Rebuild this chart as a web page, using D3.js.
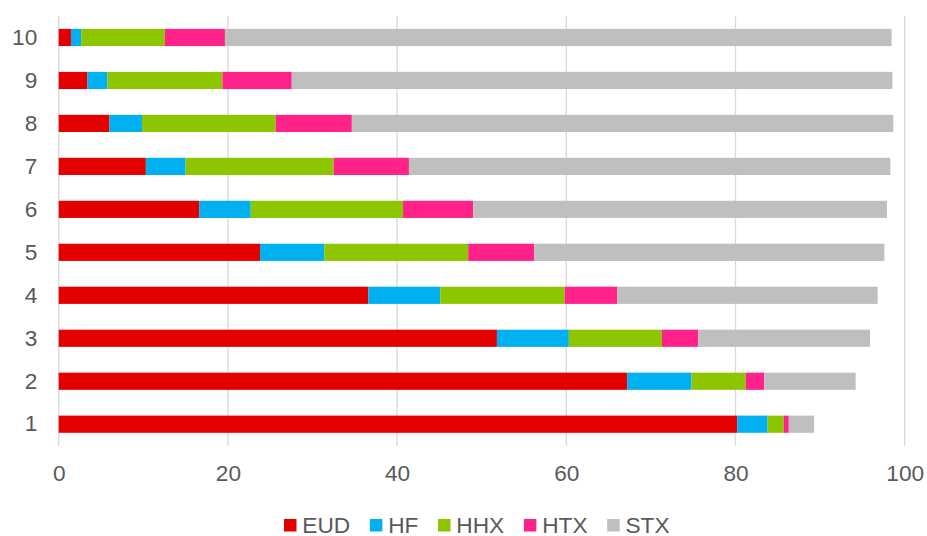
<!DOCTYPE html>
<html>
<head>
<meta charset="utf-8">
<script src="https://cdn.jsdelivr.net/npm/d3@7"></script>
<style>
  body { margin: 0; background: #fff; }
  svg { display: block; font-family: "Liberation Sans", Arial, sans-serif; }
</style>
</head>
<body>
<svg id="chart" width="927" height="536"></svg>
<script>
const categories = ["1","2","3","4","5","6","7","8","9","10"];
const seriesNames = ["EUD","HF","HHX","HTX","STX"];
const EUD = [80.2, 67.2, 51.8, 36.6, 23.8, 16.6, 10.3, 6.0, 3.4, 1.45];
const HF  = [3.6, 7.6, 8.5, 8.5, 7.6, 6.1, 4.7, 3.85, 2.35, 1.2];
const HHX = [1.9, 6.4, 11.0, 14.7, 17.0, 18.0, 17.5, 15.8, 13.6, 9.9];
const HTX = [0.6, 2.2, 4.3, 6.2, 7.8, 8.3, 8.9, 9.0, 8.2, 7.1];
const STX = [3.0, 10.8, 20.3, 30.8, 41.4, 48.9, 56.9, 64.0, 71.0, 78.8];
const xTicks = [0, 20, 40, 60, 80, 100];
const colors = ["#E50000", "#00B0F0", "#8DC500", "#FF2289", "#BFBFBF"];

const valuesBySeries = {EUD, HF, HHX, HTX, STX};
const rows = categories.map((c, i) => {
  const r = {cat: c};
  seriesNames.forEach(s => r[s] = valuesBySeries[s][i]);
  return r;
});

const FONT = "22.67px";
const svg = d3.select("#chart");
const m = {left: 58.7, right: 927 - 904.7, top: 16, bottom: 536 - 445.7};
const W = 927, H = 536;

const x = d3.scaleLinear().domain([0, 100]).range([m.left, W - m.right]);
const y = d3.scaleBand().domain(categories.slice().reverse()).range([m.top, H - m.bottom]).paddingInner(0.6).paddingOuter(0.3);
const color = d3.scaleOrdinal().domain(seriesNames).range(colors);

// gridlines
svg.append("g").selectAll("line").data(xTicks).join("line")
  .attr("x1", d => x(d)).attr("x2", d => x(d))
  .attr("y1", m.top).attr("y2", H - m.bottom)
  .attr("stroke", "#D9D9D9").attr("stroke-width", 1.3);

const stacked = d3.stack().keys(seriesNames)(rows);
svg.append("g").selectAll("g").data(stacked).join("g")
  .attr("fill", d => color(d.key))
  .selectAll("rect").data(d => d).join("rect")
  .attr("x", d => x(d[0]))
  .attr("width", d => x(d[1]) - x(d[0]))
  .attr("y", d => y(d.data.cat))
  .attr("height", y.bandwidth());

// x axis labels
const xAxis = svg.append("g").attr("transform", `translate(0,${H - m.bottom})`)
  .call(d3.axisBottom(x).tickValues(xTicks).tickSize(0).tickPadding(19.5));
xAxis.select(".domain").remove();
xAxis.selectAll("text").attr("fill", "#595959").attr("font-size", FONT)
  .attr("font-family", "'Liberation Sans', Arial, sans-serif");

// y axis labels
const yAxis = svg.append("g").attr("transform", `translate(${m.left},0)`)
  .call(d3.axisLeft(y).tickSize(0).tickPadding(21.4));
yAxis.select(".domain").remove();
yAxis.selectAll("text").attr("fill", "#595959").attr("font-size", FONT)
  .attr("font-family", "'Liberation Sans', Arial, sans-serif");

// legend
const legend = svg.append("g");
let lx = 284;
seriesNames.forEach(s => {
  const g = legend.append("g").attr("transform", `translate(${lx},0)`);
  g.append("rect").attr("x", 0).attr("y", 519).attr("width", 12.5).attr("height", 12.5).attr("fill", color(s));
  const t = g.append("text").attr("x", 18.3).attr("y", 532.5).attr("fill", "#595959")
    .attr("font-size", FONT).text(s);
  lx += 18.3 + t.node().getComputedTextLength() + 19.7;
});
</script>
</body>
</html>
